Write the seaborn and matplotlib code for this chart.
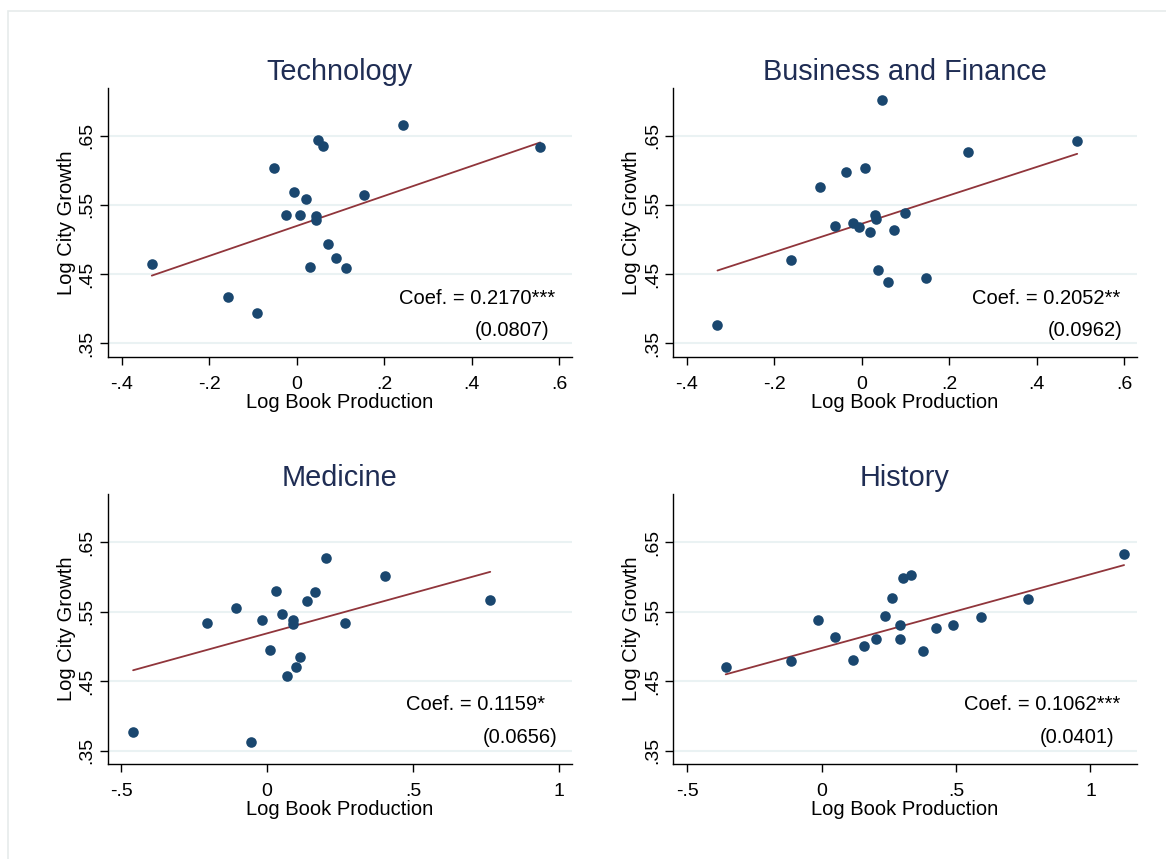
import matplotlib
matplotlib.use("Agg")
import matplotlib.pyplot as plt
from matplotlib.patches import Rectangle
import seaborn as sns

# ── Data ──────────────────────────────────────────────────────────────────────
tech_x = [-0.331, -0.158, -0.091, -0.053, -0.006, -0.025, 0.008, 0.022, 0.043, 0.043,
          0.049, 0.059, 0.030, 0.072, 0.089, 0.112, 0.154, 0.243, 0.556]
tech_y = [0.465, 0.417, 0.394, 0.604, 0.569, 0.535, 0.535, 0.558, 0.534, 0.528,
          0.644, 0.635, 0.460, 0.494, 0.473, 0.459, 0.565, 0.666, 0.634]

biz_x = [-0.330, -0.163, -0.095, -0.037, 0.008, 0.047, -0.061, -0.020, -0.006, 0.019,
         0.031, 0.032, 0.073, 0.099, 0.037, 0.060, 0.147, 0.243, 0.492]
biz_y = [0.377, 0.471, 0.576, 0.598, 0.604, 0.701, 0.519, 0.524, 0.518, 0.511,
         0.535, 0.529, 0.514, 0.538, 0.456, 0.439, 0.444, 0.626, 0.643]

med_x = [-0.459, -0.054, -0.205, -0.107, -0.017, 0.009, 0.032, 0.050, 0.089, 0.087,
         0.135, 0.163, 0.201, 0.266, 0.113, 0.099, 0.069, 0.402, 0.764]
med_y = [0.377, 0.362, 0.533, 0.555, 0.538, 0.495, 0.580, 0.546, 0.538, 0.532,
         0.566, 0.579, 0.627, 0.533, 0.485, 0.470, 0.457, 0.601, 0.567]

hist_x = [-0.357, -0.115, -0.015, 0.051, 0.117, 0.159, 0.201, 0.236, 0.261, 0.290,
          0.290, 0.304, 0.334, 0.377, 0.427, 0.490, 0.593, 0.769, 1.125]
hist_y = [0.471, 0.479, 0.538, 0.513, 0.481, 0.501, 0.510, 0.544, 0.570, 0.531,
          0.510, 0.599, 0.603, 0.494, 0.526, 0.531, 0.543, 0.568, 0.633]

titles = ["Technology", "Business and Finance", "Medicine", "History"]
# fitted line: slope = reported coefficient, intercept
slopes = [0.2170, 0.2052, 0.1159, 0.1062]
intercepts = [0.5196, 0.5229, 0.5188, 0.4976]
coefs = ["Coef. = 0.2170***", "Coef. = 0.2052**", "Coef. = 0.1159*", "Coef. = 0.1062***"]
ses = ["(0.0807)", "(0.0962)", "(0.0656)", "(0.0401)"]

y_ticks = [0.35, 0.45, 0.55, 0.65]
y_ticklabels = [".35", ".45", ".55", ".65"]
x_ticks_top = [-0.4, -0.2, 0, 0.2, 0.4, 0.6]
x_ticklabels_top = ["-.4", "-.2", "0", ".2", ".4", ".6"]
x_ticks_bot = [-0.5, 0, 0.5, 1]
x_ticklabels_bot = ["-.5", "0", ".5", "1"]

# ── Style ─────────────────────────────────────────────────────────────────────
sns.set_theme(style="white")
plt.rcParams["font.family"] = ["Liberation Sans", "DejaVu Sans"]

NAVY = "#1a476f"
MAROON = "#90353b"
TITLE = "#1f2d54"
W, H = 1166, 859

fig = plt.figure(figsize=(W / 100, H / 100), dpi=100)
fig.patches.append(Rectangle((8 / W, -0.1), 1.2, 1 - 11 / H + 0.1, transform=fig.transFigure,
                             fill=False, edgecolor="#e6ebeb", linewidth=1.2))

# axes boxes in pixels: (left, top, right, bottom)
boxes = [(108, 88, 571.7, 356.7), (673.3, 88, 1136.7, 356.7),
         (108, 494.3, 571.7, 764), (673.3, 494.3, 1136.7, 764)]
xlims = [(-0.431, 0.628), (-0.431, 0.628), (-0.545, 1.043), (-0.552, 1.172)]
series = [(tech_x, tech_y), (biz_x, biz_y), (med_x, med_y), (hist_x, hist_y)]
# text anchors (right edge x, centre y) in pixels
coef_pos = [(555, 299), (1120, 299), (545, 705), (1120.7, 705)]
se_pos = [(549, 330.7), (1122.7, 330.7), (557.3, 737.3), (1114.3, 737.3)]

for i, ((l, t, r, b), (xs, ys)) in enumerate(zip(boxes, series)):
    ax = fig.add_axes([l / W, 1 - b / H, (r - l) / W, (b - t) / H])
    ax.set_facecolor("white")
    sns.scatterplot(x=xs, y=ys, ax=ax, s=58, color=NAVY, linewidth=0, alpha=1, zorder=3)
    x_fit = [min(xs), max(xs)]
    y_fit = [intercepts[i] + slopes[i] * v for v in x_fit]
    sns.lineplot(x=x_fit, y=y_fit, ax=ax, color=MAROON, linewidth=1.3, zorder=2)
    ax.set_xlim(*xlims[i])
    ax.set_ylim(0.3306, 0.719)
    if i < 2:
        ax.set_xticks(x_ticks_top, x_ticklabels_top)
    else:
        ax.set_xticks(x_ticks_bot, x_ticklabels_bot)
    ax.set_yticks(y_ticks)
    ax.set_yticklabels(y_ticklabels, rotation=90, va="center")
    ax.grid(axis="y", color="#eaf2f3", linewidth=1.5, zorder=0)
    ax.grid(axis="x", visible=False)
    for side in ["top", "right"]:
        ax.spines[side].set_visible(False)
    for side in ["left", "bottom"]:
        ax.spines[side].set_color("black")
        ax.spines[side].set_linewidth(1.0)
    ax.tick_params(axis="both", direction="out", length=6, width=1, color="black",
                   labelsize=14, labelcolor="black", bottom=True, left=True)
    ax.tick_params(axis="x", pad=8)
    ax.tick_params(axis="y", pad=3)
    ax.set_xlabel("Log Book Production", fontsize=14.5, color="black", labelpad=0)
    ax.set_ylabel("Log City Growth", fontsize=14.5, color="black", labelpad=2)
    ax.set_title(titles[i], fontsize=20.8, color=TITLE, pad=6)

    cx, cy = coef_pos[i]
    fig.text(cx / W, 1 - cy / H, coefs[i], ha="right", va="center", fontsize=14.5, color="black")
    sx, sy = se_pos[i]
    fig.text(sx / W, 1 - sy / H, ses[i], ha="right", va="center", fontsize=14.5, color="black")

fig.savefig("out.png", dpi=100)
